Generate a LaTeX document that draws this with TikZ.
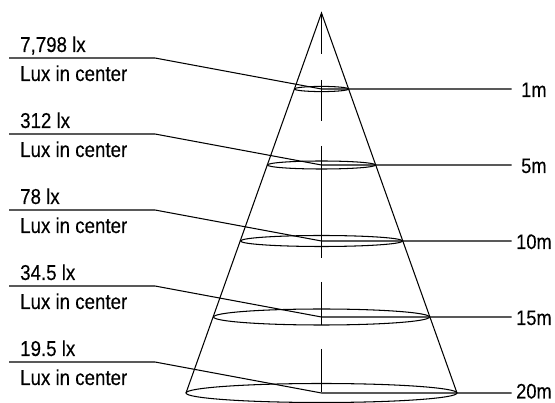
\documentclass[tikz,border=0pt]{standalone}
\usepackage{fontspec}
\setmainfont[FakeStretch=0.87,FakeBold=0.25]{Liberation Sans}
\tikzset{
  px/.style={x=1pt,y=-1pt},
  ln/.style={line width=1.05pt,black},
  axisdash/.style={line width=1.05pt,black},
  lbl/.style={anchor=base west,inner sep=0pt,font=\fontsize{21.5}{24}\selectfont},
  dist/.style={anchor=base west,inner sep=0pt,font=\fontsize{21}{24}\selectfont}
}
\begin{document}
\begin{tikzpicture}[px]
\useasboundingbox (0,0) rectangle (555,403);
\coordinate (apex) at (321.5,13);
\coordinate (bl) at (186,393);
\coordinate (br) at (457,393);
\draw[ln] (bl) -- (apex) -- (br);
% axis
\foreach \a/\b/\n in {13/54/a,80/121/b,146/258/c,282/325/d,349/392/e}{
  \coordinate (t\n) at (321.5,\a);
  \coordinate (u\n) at (321.5,\b);
  \draw[axisdash] (t\n) -- (u\n);
}
% rings, leaders, labels
\foreach \y/\rx/\ry/\val/\dst/\dx/\dy/\n in {
  89/27/2.6/{7,798 lx}/1m/521/8/p,
  165/54/4/{312 lx}/5m/521/8/q,
  241/81/5.5/{78 lx}/10m/516/8/r,
  317/108/8/{34.5 lx}/15m/516/8/s,
  393/135.5/9.5/{19.5 lx}/20m/516/5.5/w}{
  \coordinate (c\n) at (321.5,\y);
  \draw[ln] (c\n) ellipse [x radius=\rx, y radius=\ry];
  \coordinate (ls\n) at (9,\y-31);
  \coordinate (lk\n) at (155,\y-31);
  \coordinate (re\n) at (511.5,\y);
  \draw[ln] (ls\n) -- (lk\n) -- (c\n) -- (re\n);
  \node[lbl] (v\n) at (20,\y-37) {\val};
  \node[lbl] (l\n) at (20,\y-8) {Lux in center};
  \node[dist] (d\n) at (\dx,\y+\dy) {\dst};
}
\end{tikzpicture}
\end{document}
